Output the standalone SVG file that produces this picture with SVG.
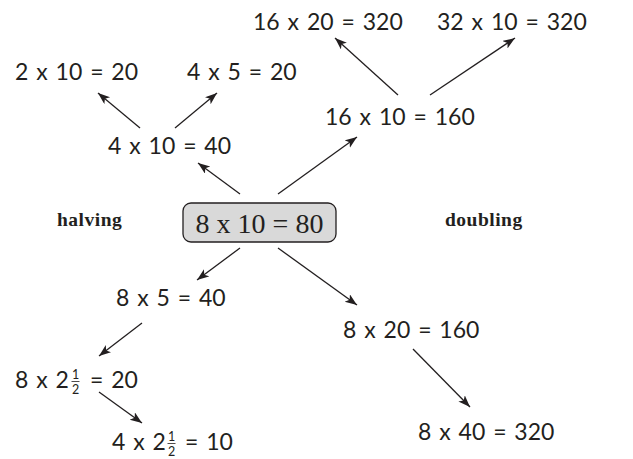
<svg xmlns="http://www.w3.org/2000/svg" width="633" height="459" viewBox="0 0 633 459">
<style>
.t{font-family:Lato,"Open Sans","DejaVu Sans",sans-serif;font-size:23px;font-weight:400;word-spacing:2px;fill:#231f20}
.f{font-size:12.5px}
.fb{stroke:#231f20;stroke-width:0.8}
.b{font-family:"Liberation Serif","DejaVu Serif",serif;font-size:19.5px;font-weight:bold;letter-spacing:0.5px;fill:#231f20}
.m{font-family:"Liberation Serif","DejaVu Serif",serif;font-size:28px;fill:#231f20}
.box{fill:#d9d9d9;stroke:#231f20;stroke-width:1.3}
.c line{stroke:#231f20;stroke-width:1.3;marker-end:url(#ah)}
</style>
<defs>
<marker id="ah" markerUnits="userSpaceOnUse" markerWidth="14" markerHeight="10" refX="12" refY="4.5" orient="auto">
<path d="M0,0 L12,4.5 L0,9 L3,4.5 z" fill="#231f20"/>
</marker>
</defs>
<g class="c">
<line x1="240" y1="194" x2="198" y2="163"/>
<line x1="278" y1="194" x2="357" y2="137"/>
<line x1="240" y1="248" x2="197" y2="280"/>
<line x1="278" y1="248" x2="357" y2="305"/>
<line x1="142" y1="323" x2="99" y2="356"/>
<line x1="99" y1="392" x2="142" y2="423"/>
<line x1="413" y1="349" x2="470" y2="407"/>
<line x1="140" y1="128" x2="98" y2="93"/>
<line x1="175" y1="128" x2="217" y2="93"/>
<line x1="398" y1="95" x2="335" y2="38"/>
<line x1="430" y1="95" x2="515" y2="38"/>
</g>
<g id="n-center"><rect class="box" x="183" y="203" width="153" height="39" rx="8"/><text class="m" x="259.5" y="232.5" text-anchor="middle">8 x 10 = 80</text></g>
<g id="n-halving"><text class="b" x="57" y="226">halving</text></g>
<g id="n-doubling"><text class="b" x="445" y="226">doubling</text></g>
<g id="n-16x20"><text class="t" x="253" y="30">16 x 20 = 320</text></g>
<g id="n-32x10"><text class="t" x="437" y="30">32 x 10 = 320</text></g>
<g id="n-2x10"><text class="t" x="15" y="80">2 x 10 = 20</text></g>
<g id="n-4x5"><text class="t" x="187" y="80">4 x 5 = 20</text></g>
<g id="n-16x10"><text class="t" x="325" y="125">16 x 10 = 160</text></g>
<g id="n-4x10"><text class="t" x="108" y="154">4 x 10 = 40</text></g>
<g id="n-8x5"><text class="t" x="116" y="306">8 x 5 = 40</text></g>
<g id="n-8x20"><text class="t" x="343" y="338">8 x 20 = 160</text></g>
<g id="n-8x2h"><text class="t" x="15" y="388">8 x 2<tspan class="f" x="72" y="379">1</tspan><tspan class="f" x="72" y="393.5">2</tspan><tspan x="90" y="388">= 20</tspan></text><line class="fb" x1="71.5" y1="381.5" x2="79.5" y2="381.5"/></g>
<g id="n-4x2h"><text class="t" x="112" y="450">4 x 2<tspan class="f" x="168" y="441">1</tspan><tspan class="f" x="168" y="455.5">2</tspan><tspan x="185" y="450">= 10</tspan></text><line class="fb" x1="167.5" y1="443.5" x2="175.5" y2="443.5"/></g>
<g id="n-8x40"><text class="t" x="418" y="440">8 x 40 = 320</text></g>
</svg>
